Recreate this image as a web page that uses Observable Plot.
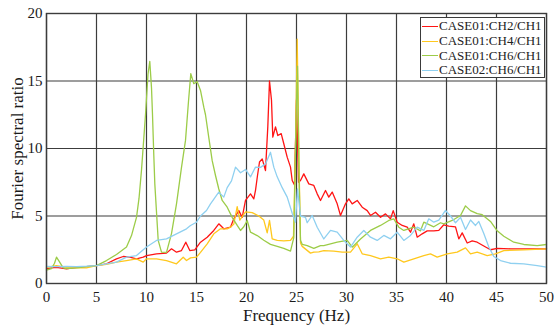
<!DOCTYPE html>
<html>
<head>
<meta charset="utf-8">
<script src="https://cdn.jsdelivr.net/npm/d3@7"></script>
<script src="https://cdn.jsdelivr.net/npm/@observablehq/plot@0.6"></script>
<style>
  html, body { margin: 0; padding: 0; background: #fff; }
  #chart { position: relative; width: 554px; height: 326px; font-family: "Liberation Serif", serif; }
  #legend { position: absolute; left: 420px; top: 17px; width: 123px; height: 58px; border: 1.5px solid #3a3a3a; background: #fff; padding-top: 1px; }
  #legend .row { display: flex; align-items: center; height: 14.7px; font-size: 13px; color: #222; white-space: nowrap; }
  #legend .sw { display: inline-block; width: 16px; height: 0; border-top: 1.5px solid; margin: 0 1px 0 1px; }
</style>
</head>
<body>
<div id="chart"></div>
<script>
// Fourier spectral ratio curves, frequency (Hz) vs ratio
const seriesNames = ["CASE01:CH2/CH1", "CASE01:CH4/CH1", "CASE01:CH6/CH1", "CASE02:CH6/CH1"];
const seriesColors = ["#ff1414", "#ffc81e", "#9ccc48", "#8fd0f0"];

const ch2Freq = [0,0.5,1,2,3,4,5,6,7,7.67,8.33,9,9.67,10,11,12,12.5,13,13.5,13.93,14.33,14.83,15.4,16.07,16.73,17.23,17.73,18.4,18.73,19.23,19.57,19.9,20.4,20.73,20.9,21.1,21.3,21.57,21.9,22.13,22.3,22.5,22.63,22.9,23.13,23.47,23.73,24.07,24.4,24.57,24.8,25.0,25.2,25.4,25.73,26.23,26.73,27.07,27.4,27.9,28.23,28.57,29.07,29.4,29.9,30.23,30.57,31.07,31.57,32.07,32.4,32.9,33.4,33.9,34.4,34.67,35.07,35.57,36.07,36.4,36.73,37.07,37.57,38.07,38.73,39.23,39.73,40.23,40.9,41.23,41.57,42.07,42.57,43.07,43.73,44.4,45.07,46.4,48.07,50];
const ch2Ratio = [1.09,1.15,1.2,1.09,1.2,1.25,1.33,1.46,1.83,2.0,1.95,1.83,1.95,2.07,2.2,2.25,2.57,2.32,2.44,3.06,2.44,2.49,3.06,3.43,3.93,4.42,4.05,4.17,4.79,5.4,4.9,6.15,6.64,6.27,6.9,8.0,9.0,9.23,8.37,11.6,15.0,13.56,10.84,11.6,10.96,11.1,10.35,9.36,8.62,7.63,7.3,13.6,7.5,7.63,8.12,7.38,7.26,6.64,6.15,6.89,6.4,6.77,5.9,5.04,5.9,6.27,5.9,6.15,5.65,5.4,5.04,5.28,4.91,5.16,4.79,5.4,4.54,4.3,4.17,3.8,4.42,3.43,3.68,3.9,3.9,3.93,4.35,4.25,4.2,3.3,3.75,3.0,3.15,3.06,2.78,2.5,2.6,2.57,2.57,2.57];

const ch4Freq = [0,1,2,3,4,5,6,7,8,9,9.67,10,11,12,13,13.67,14,14.4,15,15.4,16.07,16.73,17.4,18.07,18.4,18.73,19.07,19.33,19.9,20.57,21.23,21.73,22.07,22.3,22.57,23.07,23.73,24.4,24.7,24.9,25.07,25.25,25.4,25.57,26.4,26.73,27.23,27.73,28.73,29.57,30.4,31.07,31.57,32.4,33.4,34.23,35.07,35.73,36.73,37.73,38.4,39.07,40.07,41.07,41.9,42.4,43.07,44.07,44.9,45.73,47.73,50];
const ch4Ratio = [1.2,1.33,1.2,1.15,1.16,1.33,1.41,1.58,1.7,1.83,1.58,1.83,1.83,1.7,1.46,1.95,1.7,1.9,1.95,2.3,2.94,3.68,4.05,4.05,4.17,4.4,5.7,4.7,5.3,5.25,5.0,4.7,3.75,4.67,3.3,3.19,3.15,3.19,3.5,10,18.1,9,3.0,2.75,2.25,2.32,2.35,2.44,2.4,2.32,2.32,2.94,2.2,2.07,1.83,1.95,1.83,1.58,1.83,2.07,2.2,1.95,2.2,2.32,2.64,2.2,2.32,2.07,2.2,2.44,2.49,2.57];

const ch6Freq = [0,0.5,0.8,1.0,1.3,1.67,2,3,4,5,6,7,8,8.5,9,9.25,9.5,9.9,10.15,10.33,10.5,10.6,10.73,10.83,11.17,11.5,12,12.5,13,13.5,13.9,14.2,14.43,14.73,15.07,15.4,15.73,15.9,16.23,16.57,16.9,17.23,17.57,18.07,18.57,19.07,19.4,19.73,20.07,20.4,21.07,21.73,22.4,23.07,23.73,24.4,24.73,24.95,25.1,25.25,25.4,25.57,26.07,26.73,27.4,27.73,29.07,30.07,30.57,31.4,32.4,33.4,34.23,34.73,35.23,35.73,36.73,37.4,37.73,38.73,39.4,39.73,40.57,41.4,41.9,42.4,43.07,43.57,44.4,45.07,45.73,46.73,47.73,49.07,50];
const ch6Ratio = [1.0,1.1,1.5,1.95,1.6,1.16,1.1,1.15,1.25,1.33,1.7,2.15,2.7,3.55,4.9,6.3,8.4,12.5,15.5,16.45,14.5,12.5,9.5,7.4,3.2,2.32,2.3,3.7,5.9,8.6,10.6,13.5,15.55,14.8,14.95,14.3,13.06,12.5,10.8,9.1,8.0,7.0,6.15,5.65,4.9,4.3,3.93,4.2,4.67,3.8,3.55,3.2,2.9,2.75,2.6,2.4,3.4,12,16.1,8,3.2,2.9,2.8,2.6,2.8,2.81,3.06,3.19,2.69,3.3,3.93,4.3,4.67,4.79,4.17,3.93,4.17,3.9,4.54,4.2,4.5,4.42,4.67,5.04,5.75,5.4,5.17,5.1,4.6,3.9,3.5,3.06,2.89,2.81,2.89];

const case2Freq = [0,1,2,3,4,5,6,7,8,9,10,11,12,13,14,14.4,15,15.4,16,16.4,17.23,17.73,18.07,18.5,18.9,19.4,19.9,20.4,20.9,21.4,21.9,22.4,22.73,23.07,23.57,24.07,24.57,24.9,25.1,25.4,25.9,26.07,26.57,27.07,27.73,28.4,29.07,29.73,30.4,31.07,31.73,32.4,33.07,33.73,34.4,35.07,35.73,36.4,37.07,37.73,38.23,38.73,39.23,39.9,40.4,40.9,41.4,41.9,42.4,42.9,43.23,43.73,44.23,44.73,45.4,46.4,47.73,49.07,50];
const case2Ratio = [1.26,1.25,1.26,1.25,1.28,1.33,1.46,1.58,1.95,2.07,2.7,3.19,3.31,3.68,4.05,4.3,4.54,5.0,5.41,5.9,6.77,6.4,7.1,7.6,8.62,8.2,8.45,7.9,8.62,8.6,8.86,9.72,8.62,7.9,7.1,6.4,5.2,4.54,7,5.0,4.9,4.5,5.04,4.17,3.3,3.93,3.8,3.19,2.7,3.43,3.93,3.43,3.19,3.56,3.31,3.8,3.19,3.56,4.17,3.93,4.79,4.54,4.7,5.41,5.0,4.5,4.9,4.0,4.7,4.3,4.6,3.7,2.7,2.0,1.7,1.5,1.45,1.33,1.21];

const xTicks = [0, 5, 10, 15, 20, 25, 30, 35, 40, 45, 50];
const yTicks = [0, 5, 10, 15, 20];

const freqs = [ch2Freq, ch4Freq, ch6Freq, case2Freq];
const ratios = [ch2Ratio, ch4Ratio, ch6Ratio, case2Ratio];
const rows = seriesNames.flatMap((name, i) =>
  freqs[i].map((f, j) => ({series: name, freq: f, ratio: ratios[i][j]}))
);

const gridColor = "#3c3c3c";

const chart = Plot.plot({
  width: 554,
  height: 326,
  marginLeft: 46,
  marginRight: 8,
  marginTop: 13,
  marginBottom: 43,
  style: "font-family: 'Liberation Serif', serif; font-size: 15px; color: #1a1a1a; background: #fff;",
  x: {domain: [0, 50]},
  y: {domain: [0, 20]},
  color: {domain: seriesNames, range: seriesColors},
  marks: [
    Plot.gridX(xTicks, {stroke: gridColor, strokeOpacity: 1, strokeWidth: 1.2}),
    Plot.gridY(yTicks, {stroke: gridColor, strokeOpacity: 1, strokeWidth: 1.2}),
    Plot.line(rows, {x: "freq", y: "ratio", z: "series", stroke: "series", strokeWidth: 1.3}),
    Plot.frame({stroke: gridColor, strokeWidth: 1.4}),
    Plot.axisX(xTicks, {tickSize: 0, tickPadding: 8, label: null, fontSize: 15, fill: "#1a1a1a"}),
    Plot.axisY(yTicks, {tickSize: 0, tickPadding: 4, label: null, fontSize: 15, fill: "#1a1a1a"}),
    Plot.text(["Frequency (Hz)"], {frameAnchor: "bottom", dy: 32, fontSize: 17, lineAnchor: "middle", fill: "#1a1a1a"}),
    Plot.text(["Fourier spectral ratio"], {frameAnchor: "left", dx: -29, rotate: -90, textAnchor: "middle", fontSize: 17, lineAnchor: "middle", fill: "#1a1a1a"})
  ]
});

const host = document.getElementById("chart");
host.appendChild(chart);

// legend box in the upper right of the frame
const legend = document.createElement("div");
legend.id = "legend";
seriesNames.forEach((name, i) => {
  const row = document.createElement("div");
  row.className = "row";
  const sw = document.createElement("span");
  sw.className = "sw";
  sw.style.borderTopColor = seriesColors[i];
  row.appendChild(sw);
  row.appendChild(document.createTextNode(name));
  legend.appendChild(row);
});
host.appendChild(legend);
</script>
</body>
</html>
